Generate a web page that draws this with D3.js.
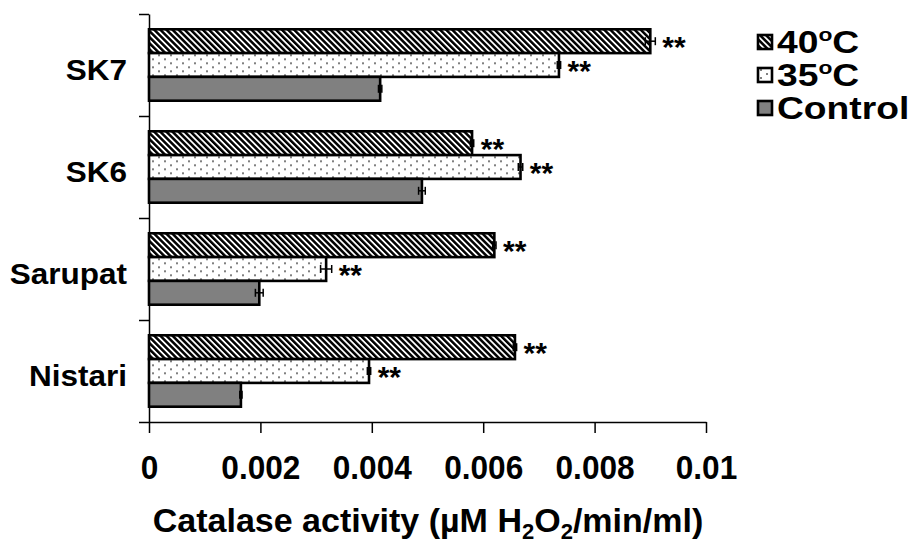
<!DOCTYPE html>
<html><head><meta charset="utf-8">
<script src="https://cdn.jsdelivr.net/npm/d3@7"></script>
<style>body{margin:0;background:#fff}svg{display:block}text{font-family:"Liberation Sans",Arial,sans-serif;font-weight:bold;fill:#000}</style>
</head><body>
<svg id="c" width="917" height="546"></svg>
<script>
const categories = ["SK7", "SK6", "Sarupat", "Nistari"];
const seriesNames = ["40", "35", "Control"];
const values40 = [0.0090, 0.0058, 0.0062, 0.00657];
const values35 = [0.00736, 0.00667, 0.00318, 0.00395];
const valuesControl = [0.00415, 0.0049, 0.00198, 0.00165];
const err40 = [0.00009, 0.00003, 0.00003, 0.00003];
const err35 = [0.00003, 0.00004, 0.0001, 0.00003];
const errControl = [0.00003, 0.00006, 0.00007, 0.00002];
const stars40 = ["**", "**", "**", "**"];
const stars35 = ["**", "**", "**", "**"];
const starsControl = ["", "", "", ""];
const xTicks = [0, 0.002, 0.004, 0.006, 0.008, 0.01];
const xTickLabels = ["0", "0.002", "0.004", "0.006", "0.008", "0.01"];
const legendLabels = ["40", "35", "Control"];

const svg = d3.select("#c");
const defs = svg.append("defs");
const hatch = defs.append("pattern").attr("id","hatch").attr("patternUnits","userSpaceOnUse")
  .attr("width",4.3).attr("height",4.3).attr("patternTransform","rotate(-45)");
hatch.append("rect").attr("width",4.3).attr("height",4.3).attr("fill","#fff");
hatch.append("rect").attr("width",2.5).attr("height",4.3).attr("fill","#000");
const dots = defs.append("pattern").attr("id","dots").attr("patternUnits","userSpaceOnUse")
  .attr("width",12).attr("height",8);
dots.append("rect").attr("width",12).attr("height",8).attr("fill","#fff");
dots.append("circle").attr("cx",3).attr("cy",2).attr("r",1).attr("fill","#555");
dots.append("circle").attr("cx",9).attr("cy",6).attr("r",1).attr("fill","#555");
const fills = {"40":"url(#hatch)","35":"url(#dots)","Control":"#808080"};

const x = d3.scaleLinear().domain([0,0.01]).range([149,706]);
const y0 = d3.scaleBand().domain(categories).range([14,422]).paddingInner(0.3).paddingOuter(0.15);
const y1 = d3.scaleBand().domain(seriesNames).range([0,y0.bandwidth()]);
const yLin = d3.scaleLinear().domain([0,categories.length]).range([422,14]);

const data = categories.map((c,i)=>({cat:c, bars:[
  {s:"40", v:values40[i], e:err40[i], st:stars40[i]},
  {s:"35", v:values35[i], e:err35[i], st:stars35[i]},
  {s:"Control", v:valuesControl[i], e:errControl[i], st:starsControl[i]}]}));

// y axis
const ya = svg.append("g").attr("transform","translate(149,0)")
  .call(d3.axisLeft(yLin).ticks(categories.length).tickSize(10).tickSizeOuter(0).tickFormat(""));
ya.select(".domain").attr("stroke","#000").attr("stroke-width",1.5);
ya.selectAll(".tick line").attr("stroke","#000").attr("stroke-width",1.5);

// x axis
const xa = svg.append("g").attr("transform","translate(0,422)")
  .call(d3.axisBottom(x).tickValues(xTicks).tickSize(11).tickSizeOuter(0).tickFormat((d,i)=>xTickLabels[i]));
xa.select(".domain").attr("stroke","#000").attr("stroke-width",1.5);
xa.selectAll(".tick line").attr("stroke","#000").attr("stroke-width",1.5);
xa.selectAll(".tick text").attr("y",0).attr("dy",0)
  .attr("transform","translate(0,57) scale(0.93,1)")
  .style("font-size","34px")
  .style("font-family","Liberation Sans, Arial").style("font-weight","bold").attr("fill","#000");

// bars
const g = svg.append("g").selectAll("g").data(data).join("g")
  .attr("transform",d=>`translate(0,${y0(d.cat)})`);
g.selectAll("rect").data(d=>d.bars).join("rect")
  .attr("x",x(0)).attr("y",d=>y1(d.s)).attr("width",d=>x(d.v)-x(0)).attr("height",y1.bandwidth())
  .attr("fill",d=>fills[d.s]).attr("stroke","#000").attr("stroke-width",2.6);
// error bars (symmetric)
const eb = g.selectAll("g.err").data(d=>d.bars).join("g").attr("class","err");
const cy = d=>y1(d.s)+y1.bandwidth()/2;
eb.append("line").attr("x1",d=>x(d.v-d.e)).attr("x2",d=>x(d.v+d.e))
  .attr("y1",cy).attr("y2",cy).attr("stroke","#000").attr("stroke-width",1.5);
eb.selectAll("line.cap").data(d=>[{x:d.v-d.e,c:cy(d)},{x:d.v+d.e,c:cy(d)}]).join("line").attr("class","cap")
  .attr("x1",d=>x(d.x)).attr("x2",d=>x(d.x)).attr("y1",d=>d.c-4).attr("y2",d=>d.c+4)
  .attr("stroke","#000").attr("stroke-width",1.5);
// stars
g.selectAll("text.star").data(d=>d.bars.filter(b=>b.st)).join("text").attr("class","star")
  .attr("x",d=>x(d.v+d.e)+7).attr("y",d=>cy(d)+16)
  .style("font-size","30px").text(d=>d.st);

// category labels
svg.append("g").selectAll("text").data(categories).join("text")
  .attr("transform",d=>`translate(127,${y0(d)+y0.bandwidth()/2+15}) scale(1.05,1)`)
  .attr("text-anchor","end").style("font-size","30px").text(d=>d);

// axis title
const t = svg.append("text").attr("x",428).attr("y",532).attr("text-anchor","middle").style("font-size","34px");
t.append("tspan").text("Catalase activity  (µM H");
t.append("tspan").text("2").style("font-size","22px").attr("dy",7);
t.append("tspan").text("O").attr("dy",-7);
t.append("tspan").text("2").style("font-size","22px").attr("dy",7);
t.append("tspan").text("/min/ml)").attr("dy",-7);

// legend
const lg = svg.append("g").selectAll("g").data(legendLabels).join("g")
  .attr("transform",(d,i)=>`translate(758,${35+i*33})`);
lg.append("rect").attr("width",14).attr("height",14).attr("fill",d=>fills[d]).attr("stroke","#000").attr("stroke-width",2.6);
const lt = lg.append("text").attr("transform","translate(19,18) scale(1.2,1)").style("font-size","31px");
lt.append("tspan").text(d=>d);
lt.filter(d=>d!=="Control").append("tspan").text("o").style("font-size","19px").attr("dy",-12);
lt.filter(d=>d!=="Control").append("tspan").text("C").attr("dy",12);
</script>
</body></html>
